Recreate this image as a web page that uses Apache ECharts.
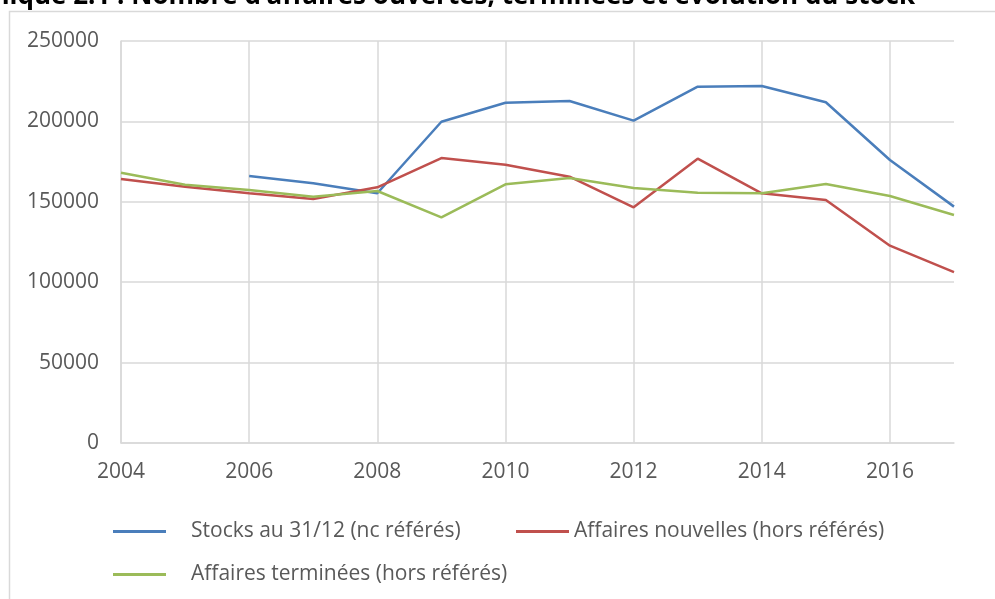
<!DOCTYPE html>
<html>
<head>
<meta charset="utf-8">
<script src="https://cdn.jsdelivr.net/npm/echarts@6/dist/echarts.min.js"></script>
<style>
    html, body { margin: 0; padding: 0; background: #fff; }
    #chart { width: 995px; height: 599px; }
</style>
</head>
<body>
<div id="chart"></div>
<script>
    // données
    var annees = [2004, 2005, 2006, 2007, 2008, 2009, 2010, 2011, 2012, 2013, 2014, 2015, 2016, 2017];
    var stocks = [null, null, 166000, 161500, 155300, 199800, 211600, 212700, 200500, 221600, 222000, 211900, 176000, 147000];
    var nouvelles = [164200, 159400, 155300, 151700, 159000, 177200, 173100, 165600, 146600, 176800, 155300, 151100, 122700, 106300];
    var terminees = [168100, 160600, 157300, 153200, 156700, 140300, 160900, 164800, 158600, 155700, 155300, 161100, 153600, 141800];
    var noms = ['Stocks au 31/12 (nc référés)', 'Affaires nouvelles (hors référés)', 'Affaires terminées (hors référés)'];
    var couleurs = ['#4a7ebb', '#c0504d', '#9bbb59'];

    var police = "'Open Sans', sans-serif";
    var gris = '#d9d9d9';

    // paires [annee, valeur], on saute les années sans valeur
    function paires(valeurs) {
        var res = [];
        for (var i = 0; i < annees.length; i++) {
            if (valeurs[i] != null) {
                res.push([annees[i], valeurs[i]]);
            }
        }
        return res;
    }

    function serie(idx, valeurs) {
        return {
            name: noms[idx],
            type: 'line',
            data: paires(valeurs),
            symbol: 'none',
            lineStyle: { width: 2.5, color: couleurs[idx] },
            itemStyle: { color: couleurs[idx] },
            animation: false
        };
    }

    function legende(idx, left, top, ecart) {
        return {
            data: [noms[idx]],
            left: left,
            top: top,
            icon: 'rect',
            itemWidth: 53,
            itemHeight: 3,
            textStyle: { fontFamily: police, fontSize: 21, color: '#595959', padding: [0, 0, 0, ecart] }
        };
    }

    var chart = echarts.init(document.getElementById('chart'));
    var option = {
        backgroundColor: '#fff',
        animation: false,
        graphic: [
            {
                type: 'rect',
                shape: { x: 9.5, y: 11.5, width: 1100, height: 1000 },
                style: { fill: 'none', stroke: gris, lineWidth: 1.5 }
            },
            {
                // titre coupé en haut comme sur l'original
                type: 'text',
                right: 80,
                top: -16,
                style: {
                    text: 'Graphique 2.1 : Nombre d\u2019affaires ouvertes, terminées et évolution du stock',
                    fontFamily: police,
                    fontWeight: 'bold',
                    fontSize: 26,
                    fill: '#000'
                }
            }
        ],
        grid: { left: 121, right: 41, top: 41, bottom: 156 },
        legend: [
            legende(0, 108, 516, 20),
            legende(1, 511, 516, 0),
            legende(2, 108, 559, 20)
        ],
        xAxis: {
            type: 'value',
            min: 2004,
            max: 2017,
            interval: 2,
            axisLine: { show: true, lineStyle: { color: gris, width: 1.5 } },
            axisTick: { show: false },
            axisLabel: {
                showMaxLabel: false,
                margin: 19,
                fontFamily: police,
                fontSize: 21,
                color: '#595959',
                formatter: function (v) { return String(v); }
            },
            splitLine: { show: true, showMaxLine: false, lineStyle: { color: gris, width: 1.5 } }
        },
        yAxis: {
            type: 'value',
            min: 0,
            max: 250000,
            interval: 50000,
            axisLine: { show: true, lineStyle: { color: gris, width: 1.5 } },
            axisTick: { show: false },
            axisLabel: {
                margin: 22,
                fontFamily: police,
                fontSize: 21,
                color: '#595959',
                formatter: function (v) { return String(v); }
            },
            splitLine: { show: true, lineStyle: { color: gris, width: 1.5 } }
        },
        series: [
            serie(0, stocks),
            serie(1, nouvelles),
            serie(2, terminees)
        ]
    };
    chart.setOption(option);
</script>
</body>
</html>
